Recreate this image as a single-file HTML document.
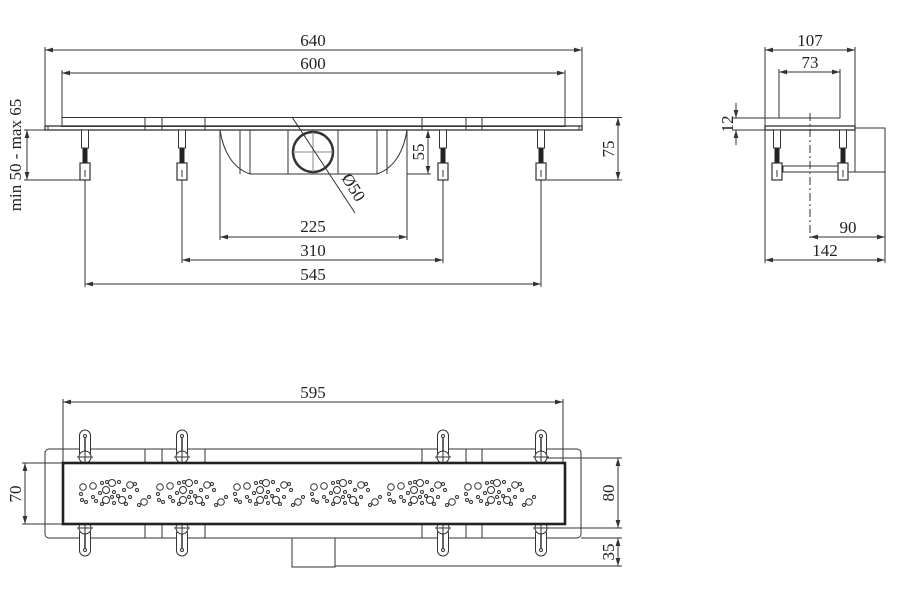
<!DOCTYPE html>
<html><head><meta charset="utf-8"><style>
html,body{margin:0;padding:0;background:#fff;}
svg{display:block;}
text{font-family:"Liberation Serif",serif;font-size:17px;fill:#222;}
</style></head><body>
<svg width="900" height="600" viewBox="0 0 900 600" xmlns="http://www.w3.org/2000/svg">
<defs>
<marker id="a" viewBox="0 0 10 6" refX="10" refY="3" markerWidth="8" markerHeight="5" orient="auto-start-reverse"><path d="M0,0L10,3L0,6z" fill="#333"/></marker>
<g id="leg">
<rect x="-3.5" y="130" width="7" height="18" fill="#fff" stroke="#333" stroke-width="1"/>
<rect x="-2.5" y="148" width="5" height="15" fill="#222"/>
<rect x="-5" y="163" width="10" height="17" fill="#fff" stroke="#333" stroke-width="1.2"/>
<line x1="0" y1="170" x2="0" y2="177" stroke="#333"/>
</g>
<g id="fix" fill="none" stroke="#333" stroke-width="1">
<rect x="-5.5" y="430" width="11" height="28" rx="5.5" fill="#fff"/>
<line x1="0" y1="438" x2="0" y2="452" stroke-width="1.5"/>
<circle cx="0" cy="436" r="1.5"/>
<circle cx="0" cy="457" r="6" fill="#fff"/>
<line x1="-8" y1="457" x2="8" y2="457"/><line x1="0" y1="450" x2="0" y2="464"/>
<rect x="-5.5" y="528" width="11" height="28" rx="5.5" fill="#fff"/>
<line x1="0" y1="534" x2="0" y2="548" stroke-width="1.5"/>
<circle cx="0" cy="550" r="1.5"/>
<circle cx="0" cy="528" r="6" fill="#fff"/>
<line x1="-8" y1="528" x2="8" y2="528"/><line x1="0" y1="521" x2="0" y2="535"/>
</g>
<g id="bub" fill="none" stroke="#333" stroke-width="1">
<circle cx="3" cy="487" r="3.3"/><circle cx="13" cy="486" r="3.3"/>
<circle cx="22" cy="483" r="1.5"/><circle cx="27" cy="482" r="1.5"/><circle cx="32" cy="483" r="3.5"/><circle cx="39" cy="482" r="1.5"/>
<circle cx="26" cy="490" r="3.5"/><circle cx="34" cy="492" r="1.5"/><circle cx="20" cy="493" r="1.5"/>
<circle cx="50" cy="485" r="3.3"/><circle cx="55" cy="484" r="1.5"/><circle cx="57" cy="490" r="1.5"/><circle cx="44" cy="490" r="1.5"/>
<circle cx="1" cy="494" r="1.5"/><circle cx="2" cy="500" r="1.5"/><circle cx="6" cy="502" r="1.5"/>
<circle cx="13" cy="497" r="1.5"/><circle cx="16" cy="501" r="1.5"/>
<circle cx="26" cy="500" r="3.5"/><circle cx="22" cy="504" r="1.5"/><circle cx="32" cy="497" r="1.5"/><circle cx="34" cy="503" r="1.5"/>
<circle cx="42" cy="500" r="3.5"/><circle cx="38" cy="496" r="1.5"/><circle cx="46" cy="504" r="1.5"/><circle cx="50" cy="497" r="1.5"/>
<circle cx="64" cy="502" r="3.3"/><circle cx="59" cy="505" r="1.5"/><circle cx="69" cy="497" r="1.5"/>
</g>
</defs>

<g stroke="#333" stroke-width="1" fill="none">
<line x1="45" y1="50" x2="582" y2="50" marker-start="url(#a)" marker-end="url(#a)"/>
<line x1="45" y1="47" x2="45" y2="128"/><line x1="582" y1="47" x2="582" y2="128"/>
<line x1="62" y1="73" x2="565" y2="73" marker-start="url(#a)" marker-end="url(#a)"/>
<line x1="62" y1="70" x2="62" y2="118"/><line x1="565" y1="70" x2="565" y2="118"/>
<rect x="62" y="117.5" width="503" height="9"/>
<rect x="45" y="126" width="537" height="4" stroke-width="1.3"/>
<line x1="145" y1="117.5" x2="145" y2="130"/><line x1="162" y1="117.5" x2="162" y2="130"/><line x1="205" y1="117.5" x2="205" y2="130"/>
<line x1="422" y1="117.5" x2="422" y2="130"/><line x1="466" y1="117.5" x2="466" y2="130"/><line x1="482" y1="117.5" x2="482" y2="130"/>
<line x1="48" y1="126" x2="48" y2="130"/><line x1="579" y1="126" x2="579" y2="130"/>
<path d="M220,130 C223,150 232,168 250,174 L377,174 C395,168 404,150 407,130"/>
<line x1="240" y1="130" x2="240" y2="174"/><line x1="250" y1="130" x2="250" y2="174"/>
<line x1="377" y1="130" x2="377" y2="174"/><line x1="387" y1="130" x2="387" y2="174"/>
<rect x="288" y="130" width="50" height="44"/>
<circle cx="313" cy="152" r="20" stroke-width="2.5"/>
<line x1="313" y1="132" x2="313" y2="172" stroke="#888"/><line x1="293" y1="152" x2="333" y2="152" stroke="#888"/>
<line x1="292" y1="117" x2="355" y2="213"/>
<line x1="407" y1="130" x2="407" y2="240"/><line x1="220" y1="130" x2="220" y2="240"/>
<line x1="220" y1="237" x2="407" y2="237" marker-start="url(#a)" marker-end="url(#a)"/>
<line x1="182" y1="180" x2="182" y2="263"/><line x1="443" y1="180" x2="443" y2="263"/>
<line x1="182" y1="260" x2="443" y2="260" marker-start="url(#a)" marker-end="url(#a)"/>
<line x1="85" y1="180" x2="85" y2="287"/><line x1="541" y1="180" x2="541" y2="287"/>
<line x1="85" y1="284" x2="541" y2="284" marker-start="url(#a)" marker-end="url(#a)"/>
<line x1="407" y1="174" x2="431" y2="174"/>
<line x1="428" y1="130" x2="428" y2="174" marker-start="url(#a)" marker-end="url(#a)"/>
<line x1="565" y1="117.5" x2="622" y2="117.5"/><line x1="547" y1="180" x2="622" y2="180"/>
<line x1="618" y1="117.5" x2="618" y2="180" marker-start="url(#a)" marker-end="url(#a)"/>
<line x1="24" y1="130" x2="45" y2="130"/><line x1="24" y1="180" x2="80" y2="180"/>
<line x1="27" y1="130" x2="27" y2="180" marker-start="url(#a)" marker-end="url(#a)"/>
</g>
<use href="#leg" x="85"/><use href="#leg" x="182"/><use href="#leg" x="443"/><use href="#leg" x="541"/>

<text x="313" y="46" text-anchor="middle">640</text>
<text x="313" y="69" text-anchor="middle">600</text>
<text x="313" y="232" text-anchor="middle">225</text>
<text x="313" y="256" text-anchor="middle">310</text>
<text x="313" y="280" text-anchor="middle">545</text>
<text transform="translate(424,152) rotate(-90)" text-anchor="middle">55</text>
<text transform="translate(614,149) rotate(-90)" text-anchor="middle">75</text>
<text transform="translate(21,155) rotate(-90)" text-anchor="middle">min 50 - max 65</text>
<text transform="translate(341,178) rotate(58)">Ø50</text>

<g stroke="#333" stroke-width="1" fill="none">
<line x1="765" y1="50" x2="855" y2="50" marker-start="url(#a)" marker-end="url(#a)"/>
<line x1="765" y1="47" x2="765" y2="263"/><line x1="855" y1="47" x2="855" y2="126"/>
<line x1="779" y1="72" x2="840" y2="72" marker-start="url(#a)" marker-end="url(#a)"/>
<line x1="779" y1="69" x2="779" y2="118"/><line x1="840" y1="69" x2="840" y2="118"/>
<line x1="733" y1="118" x2="840" y2="118"/><line x1="733" y1="130" x2="765" y2="130"/>
<line x1="736" y1="103" x2="736" y2="118" marker-end="url(#a)"/>
<line x1="736" y1="145" x2="736" y2="130" marker-end="url(#a)"/>
<rect x="765" y="126" width="90" height="4" stroke-width="1.3"/>
<rect x="855" y="128" width="30" height="44"/>
<line x1="838" y1="172" x2="855" y2="172"/>
<rect x="783" y="166" width="55" height="6"/>
<line x1="810" y1="113" x2="810" y2="240" stroke-dasharray="8,3,2,3"/>
<line x1="885" y1="172" x2="885" y2="263"/>
<line x1="810" y1="237" x2="885" y2="237" marker-start="url(#a)" marker-end="url(#a)"/>
<line x1="765" y1="260" x2="885" y2="260" marker-start="url(#a)" marker-end="url(#a)"/>
</g>
<use href="#leg" x="777"/><use href="#leg" x="843"/>
<text x="810" y="46" text-anchor="middle">107</text>
<text x="810" y="68" text-anchor="middle">73</text>
<text x="848" y="233" text-anchor="middle">90</text>
<text x="825" y="256" text-anchor="middle">142</text>
<text transform="translate(733,124) rotate(-90)" text-anchor="middle">12</text>

<g stroke="#333" stroke-width="1" fill="none">
<line x1="63" y1="402" x2="563" y2="402" marker-start="url(#a)" marker-end="url(#a)"/>
<line x1="63" y1="399" x2="63" y2="463"/><line x1="563" y1="399" x2="563" y2="463"/>
<rect x="45" y="449" width="536" height="89" rx="4"/>
<line x1="145" y1="449" x2="145" y2="463"/><line x1="162" y1="449" x2="162" y2="463"/><line x1="205" y1="449" x2="205" y2="463"/>
<line x1="422" y1="449" x2="422" y2="463"/><line x1="466" y1="449" x2="466" y2="463"/><line x1="482" y1="449" x2="482" y2="463"/>
<line x1="145" y1="524" x2="145" y2="538"/><line x1="162" y1="524" x2="162" y2="538"/><line x1="205" y1="524" x2="205" y2="538"/>
<line x1="422" y1="524" x2="422" y2="538"/><line x1="466" y1="524" x2="466" y2="538"/><line x1="482" y1="524" x2="482" y2="538"/>
<rect x="292" y="538" width="43" height="29"/>
<line x1="22" y1="463" x2="62" y2="463"/><line x1="22" y1="524" x2="62" y2="524"/>
<line x1="25" y1="463" x2="25" y2="524" marker-start="url(#a)" marker-end="url(#a)"/>
<line x1="541" y1="458" x2="622" y2="458"/><line x1="541" y1="528" x2="622" y2="528"/>
<line x1="618" y1="458" x2="618" y2="528" marker-start="url(#a)" marker-end="url(#a)"/>
<line x1="581" y1="538" x2="622" y2="538"/><line x1="335" y1="566" x2="622" y2="566"/>
<line x1="618" y1="538" x2="618" y2="566" marker-start="url(#a)" marker-end="url(#a)"/>
</g>
<use href="#fix" x="85"/><use href="#fix" x="182"/><use href="#fix" x="443"/><use href="#fix" x="541"/>
<rect x="63" y="463" width="502" height="61" fill="#fff" stroke="#222" stroke-width="2.6"/>
<use href="#bub" x="80"/><use href="#bub" x="157"/><use href="#bub" x="234"/><use href="#bub" x="311"/><use href="#bub" x="388"/><use href="#bub" x="465"/>
<text x="313" y="398" text-anchor="middle">595</text>
<text transform="translate(21,494) rotate(-90)" text-anchor="middle">70</text>
<text transform="translate(614,493) rotate(-90)" text-anchor="middle">80</text>
<text transform="translate(614,552) rotate(-90)" text-anchor="middle">35</text>
</svg>
</body></html>
